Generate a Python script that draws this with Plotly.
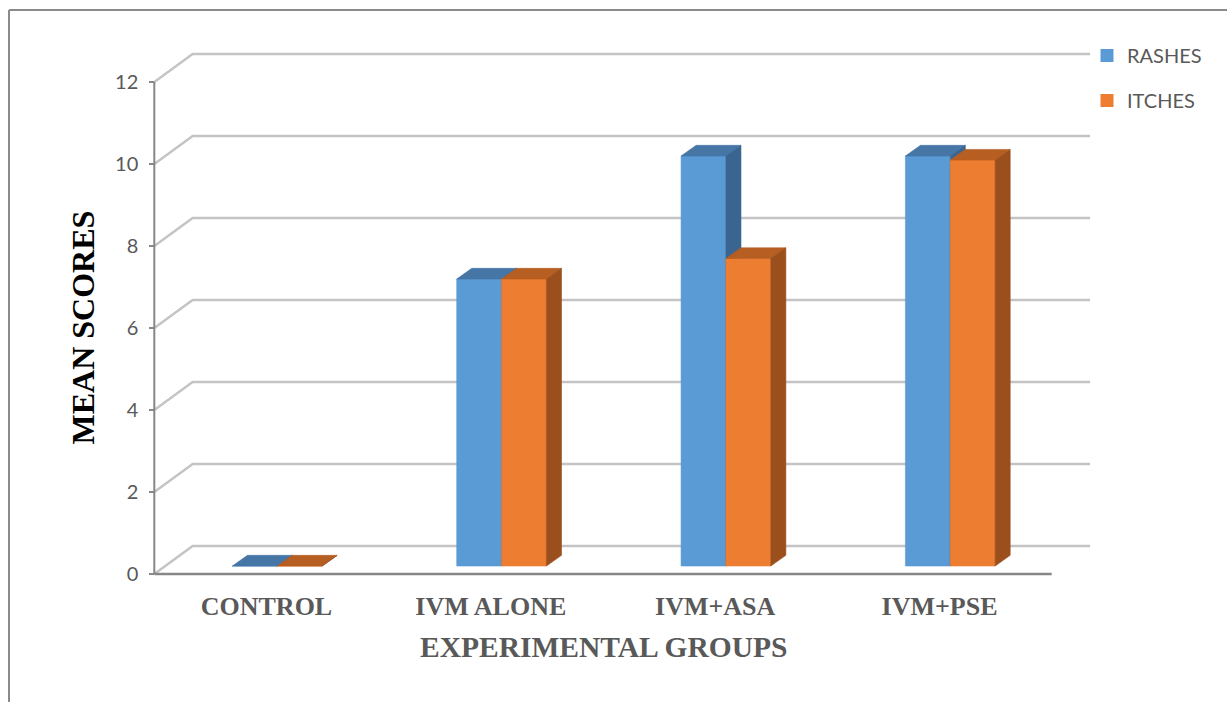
import plotly.graph_objects as go

# ---- data -------------------------------------------------------------
GROUPS = ["CONTROL", "IVM ALONE", "IVM+ASA", "IVM+PSE"]
RASHES = [0, 7, 10, 10]
ITCHES = [0, 7, 7.5, 9.9]
Y_TICKS = [0, 2, 4, 6, 8, 10, 12]

# ---- look -------------------------------------------------------------
BLUE = dict(front="#5B9BD5", top="#4576A6", side="#3A6590")
ORANGE = dict(front="#ED7D31", top="#B75E22", side="#9A4F1C")
GRID = "#C4C4C4"
AXIS = "#878787"
TEXT = "#595959"

# oblique "3-D" projection, in data units
WALL_DX, WALL_DY = 0.171, 0.683   # depth of floor / back wall
BAR_DX, BAR_DY = 0.067, 0.26      # depth of a single bar
BAR_BASE = 0.195                  # bars stand part-way back on the floor
BAR_W = 0.2
OFFSETS = (-0.152, 0.048)         # left edge of each series inside a group

# page geometry (px)
W, H = 1227, 702
PL, PR, PT, PB = 150, 1100, 40, 580
X0_PX, X_SCALE = 154.3, 224.35     # px of x=-0.5, px per category
Y0_PX, Y_SCALE = 574.0, 41.0       # px of y=0, px per unit

x_range = [-0.5 - (X0_PX - PL) / X_SCALE, -0.5 + (PR - X0_PX) / X_SCALE]
y_range = [(Y0_PX - PB) / Y_SCALE, (Y0_PX - PT) / Y_SCALE]


def px_x(p):
    return (p - PL) / (PR - PL)


def px_y(p):
    return (PB - p) / (PB - PT)


fig = go.Figure()

# back wall gridlines with their diagonal run across the floor
gx, gy = [], []
n = len(GROUPS)
for t in Y_TICKS:
    gx += [-0.5, -0.5 + WALL_DX, n - 0.5 + WALL_DX, None]
    gy += [t, t + WALL_DY, t + WALL_DY, None]
fig.add_trace(go.Scatter(x=gx, y=gy, mode="lines", line=dict(color=GRID, width=2.5),
                         hoverinfo="skip", showlegend=False))

# front edge of the floor and the value axis
fig.add_trace(go.Scatter(x=[-0.5, n - 0.5], y=[0, 0], mode="lines",
                         line=dict(color=AXIS, width=2.5), hoverinfo="skip", showlegend=False))
fig.add_trace(go.Scatter(x=[-0.5, -0.5], y=[Y_TICKS[0], Y_TICKS[-1]], mode="lines",
                         line=dict(color=AXIS, width=2), hoverinfo="skip", showlegend=False))


def bar_faces(offset, values):
    front = ([], [])
    top = ([], [])
    side = ([], [])
    for i, v in enumerate(values):
        x0 = i + offset
        x1 = x0 + BAR_W
        y0 = BAR_BASE
        y1 = BAR_BASE + v
        front[0].extend([x0, x1, x1, x0, x0, None])
        front[1].extend([y0, y0, y1, y1, y0, None])
        top[0].extend([x0, x1, x1 + BAR_DX, x0 + BAR_DX, x0, None])
        top[1].extend([y1, y1, y1 + BAR_DY, y1 + BAR_DY, y1, None])
        side[0].extend([x1, x1 + BAR_DX, x1 + BAR_DX, x1, x1, None])
        side[1].extend([y0, y0 + BAR_DY, y1 + BAR_DY, y1, y0, None])
    return front, top, side


for (name, values, colors), off in zip(
        [("RASHES", RASHES, BLUE), ("ITCHES", ITCHES, ORANGE)], OFFSETS):
    front, top, side = bar_faces(off, values)
    for face, key in ((front, "front"), (top, "top"), (side, "side")):
        fig.add_trace(go.Scatter(
            x=face[0], y=face[1], mode="lines", fill="toself",
            fillcolor=colors[key], line=dict(color=colors[key], width=0.6),
            hoverinfo="skip", showlegend=False))
    # legend swatch
    fig.add_trace(go.Scatter(
        x=[None], y=[None], mode="markers", name=name, legendgroup=name,
        marker=dict(symbol="square", size=13, color=colors["front"])))

fig.update_layout(
    width=W, height=H,
    margin=dict(l=PL, r=W - PR, t=PT, b=H - PB, autoexpand=False),
    paper_bgcolor="white", plot_bgcolor="white",
    showlegend=True,
    legend=dict(x=px_x(1087), y=px_y(36), xanchor="left", yanchor="top",
                font=dict(family="Lato", size=20, color=TEXT),
                traceorder="grouped", tracegroupgap=16, bgcolor="rgba(0,0,0,0)"),
    xaxis=dict(range=x_range, tickvals=list(range(n)), ticktext=GROUPS,
               ticks="", showline=False, showgrid=False, zeroline=False,
               tickfont=dict(family="Liberation Serif", size=26, color=TEXT, weight="bold"),
               ticklabelstandoff=8, fixedrange=True),
    yaxis=dict(range=y_range, tickvals=Y_TICKS, anchor="free", position=px_x(X0_PX),
               ticks="outside", ticklen=5, tickwidth=2, tickcolor=AXIS,
               showline=False, showgrid=False, zeroline=False,
               tickfont=dict(family="Lato", size=20, color=TEXT),
               ticklabelstandoff=7, fixedrange=True),
    annotations=[
        dict(text="EXPERIMENTAL GROUPS", xref="paper", yref="paper",
             x=px_x(603), y=px_y(647), xanchor="center", yanchor="middle", showarrow=False,
             font=dict(family="Liberation Serif", size=29.5, color=TEXT, weight="bold")),
        dict(text="MEAN SCORES", xref="paper", yref="paper", textangle=-90,
             x=px_x(82.5), y=px_y(328), xanchor="center", yanchor="middle", showarrow=False,
             font=dict(family="Liberation Serif", size=32, color="black", weight="bold")),
    ],
    shapes=[
        dict(type="line", xref="paper", yref="paper", x0=px_x(9), x1=px_x(W + 5),
             y0=px_y(10), y1=px_y(10), line=dict(color="#8A8A8A", width=2)),
        dict(type="line", xref="paper", yref="paper", x0=px_x(9), x1=px_x(9),
             y0=px_y(10), y1=px_y(H + 5), line=dict(color="#8A8A8A", width=2)),
    ],
)

fig.write_html("out.html")
